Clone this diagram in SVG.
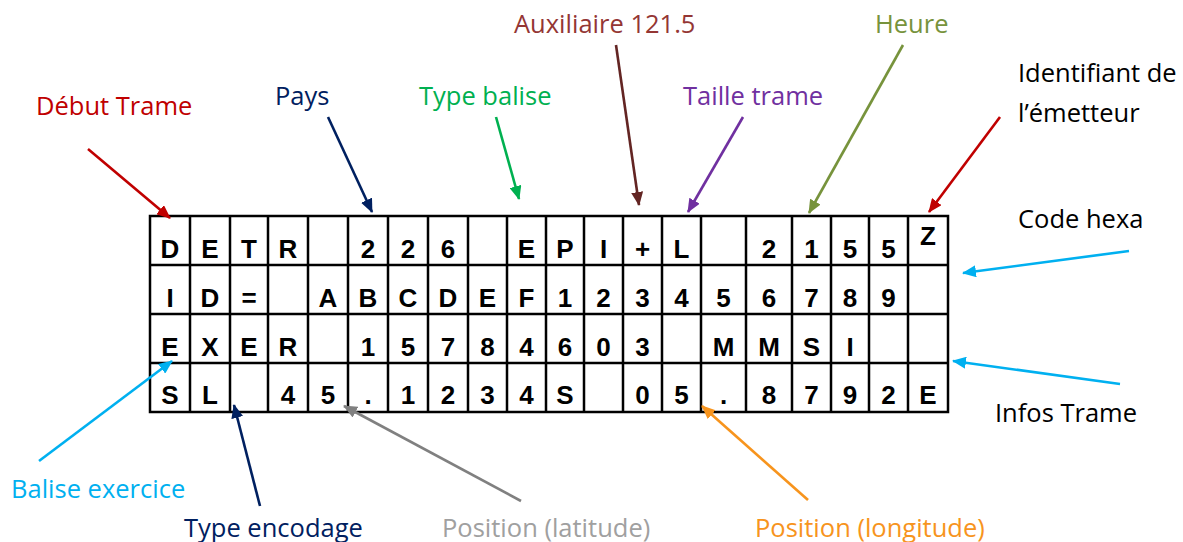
<svg xmlns="http://www.w3.org/2000/svg" width="1183" height="542" viewBox="0 0 1183 542">
  <style>
    .lbl { font-family: "Open Sans", "Liberation Sans", sans-serif; font-size: 25.5px; }
    .cell { font-family: "Liberation Sans", Arial, sans-serif; font-size: 26px; font-weight: bold; text-anchor: middle; fill: #000; }
    .grid { stroke: #000; stroke-width: 2.5; fill: none; }
    .arr { stroke-width: 2.6; fill: none; }
  </style>
  <defs>
    <marker id="m-red" viewBox="0 0 14 12" refX="13" refY="6" markerWidth="14" markerHeight="12" markerUnits="userSpaceOnUse" orient="auto"><path d="M0,0 L14,6 L0,12 z" fill="#C00000"/></marker>
    <marker id="m-navy" viewBox="0 0 14 12" refX="13" refY="6" markerWidth="14" markerHeight="12" markerUnits="userSpaceOnUse" orient="auto"><path d="M0,0 L14,6 L0,12 z" fill="#002060"/></marker>
    <marker id="m-green" viewBox="0 0 14 12" refX="13" refY="6" markerWidth="14" markerHeight="12" markerUnits="userSpaceOnUse" orient="auto"><path d="M0,0 L14,6 L0,12 z" fill="#00B050"/></marker>
    <marker id="m-brown" viewBox="0 0 14 12" refX="13" refY="6" markerWidth="14" markerHeight="12" markerUnits="userSpaceOnUse" orient="auto"><path d="M0,0 L14,6 L0,12 z" fill="#632523"/></marker>
    <marker id="m-purple" viewBox="0 0 14 12" refX="13" refY="6" markerWidth="14" markerHeight="12" markerUnits="userSpaceOnUse" orient="auto"><path d="M0,0 L14,6 L0,12 z" fill="#7030A0"/></marker>
    <marker id="m-olive" viewBox="0 0 14 12" refX="13" refY="6" markerWidth="14" markerHeight="12" markerUnits="userSpaceOnUse" orient="auto"><path d="M0,0 L14,6 L0,12 z" fill="#77933C"/></marker>
    <marker id="m-cyan" viewBox="0 0 14 12" refX="13" refY="6" markerWidth="14" markerHeight="12" markerUnits="userSpaceOnUse" orient="auto"><path d="M0,0 L14,6 L0,12 z" fill="#00B0F0"/></marker>
    <marker id="m-gray" viewBox="0 0 14 12" refX="13" refY="6" markerWidth="14" markerHeight="12" markerUnits="userSpaceOnUse" orient="auto"><path d="M0,0 L14,6 L0,12 z" fill="#808080"/></marker>
    <marker id="m-orange" viewBox="0 0 14 12" refX="13" refY="6" markerWidth="14" markerHeight="12" markerUnits="userSpaceOnUse" orient="auto"><path d="M0,0 L14,6 L0,12 z" fill="#F7941D"/></marker>
  </defs>

  <rect width="1183" height="542" fill="#fff"/>

  <!-- frame table: 20 columns x 4 rows -->
  <g id="frame-table">
    <rect class="grid" x="150" y="216" width="798" height="196"/>
    <path class="grid" d="M150,265 H948 M150,314 H948 M150,363 H948
      M190,216 V412 M230,216 V412 M268,216 V412 M308,216 V412 M348,216 V412
      M388,216 V412 M428,216 V412 M468,216 V412 M507,216 V412 M546,216 V412
      M584,216 V412 M623,216 V412 M662,216 V412 M701,216 V412 M746,216 V412
      M792,216 V412 M831,216 V412 M869,216 V412 M908,216 V412"/>

    <!-- row 1 -->
    <g id="row1">
      <text class="cell" x="170" y="258">D</text>
      <text class="cell" x="210" y="258">E</text>
      <text class="cell" x="249" y="258">T</text>
      <text class="cell" x="288" y="258">R</text>
      <text class="cell" x="368" y="258">2</text>
      <text class="cell" x="408" y="258">2</text>
      <text class="cell" x="448" y="258">6</text>
      <text class="cell" x="526.5" y="258">E</text>
      <text class="cell" x="565" y="258">P</text>
      <text class="cell" x="603.5" y="258">I</text>
      <text class="cell" x="642.5" y="258">+</text>
      <text class="cell" x="681.5" y="258">L</text>
      <text class="cell" x="769" y="258">2</text>
      <text class="cell" x="811.5" y="258">1</text>
      <text class="cell" x="850" y="258">5</text>
      <text class="cell" x="888.5" y="258">5</text>
      <text class="cell" x="928" y="245">Z</text>
    </g>
    <!-- row 2 -->
    <g id="row2">
      <text class="cell" x="170" y="307">I</text>
      <text class="cell" x="210" y="307">D</text>
      <text class="cell" x="249" y="307">=</text>
      <text class="cell" x="328" y="307">A</text>
      <text class="cell" x="368" y="307">B</text>
      <text class="cell" x="408" y="307">C</text>
      <text class="cell" x="448" y="307">D</text>
      <text class="cell" x="487.5" y="307">E</text>
      <text class="cell" x="526.5" y="307">F</text>
      <text class="cell" x="565" y="307">1</text>
      <text class="cell" x="603.5" y="307">2</text>
      <text class="cell" x="642.5" y="307">3</text>
      <text class="cell" x="681.5" y="307">4</text>
      <text class="cell" x="723.5" y="307">5</text>
      <text class="cell" x="769" y="307">6</text>
      <text class="cell" x="811.5" y="307">7</text>
      <text class="cell" x="850" y="307">8</text>
      <text class="cell" x="888.5" y="307">9</text>
    </g>
    <!-- row 3 -->
    <g id="row3">
      <text class="cell" x="170" y="356">E</text>
      <text class="cell" x="210" y="356">X</text>
      <text class="cell" x="249" y="356">E</text>
      <text class="cell" x="288" y="356">R</text>
      <text class="cell" x="368" y="356">1</text>
      <text class="cell" x="408" y="356">5</text>
      <text class="cell" x="448" y="356">7</text>
      <text class="cell" x="487.5" y="356">8</text>
      <text class="cell" x="526.5" y="356">4</text>
      <text class="cell" x="565" y="356">6</text>
      <text class="cell" x="603.5" y="356">0</text>
      <text class="cell" x="642.5" y="356">3</text>
      <text class="cell" x="723.5" y="356">M</text>
      <text class="cell" x="769" y="356">M</text>
      <text class="cell" x="811.5" y="356">S</text>
      <text class="cell" x="850" y="356">I</text>
    </g>
    <!-- row 4 -->
    <g id="row4">
      <text class="cell" x="170" y="404">S</text>
      <text class="cell" x="210" y="404">L</text>
      <text class="cell" x="288" y="404">4</text>
      <text class="cell" x="328" y="404">5</text>
      <text class="cell" x="368" y="404">.</text>
      <text class="cell" x="408" y="404">1</text>
      <text class="cell" x="448" y="404">2</text>
      <text class="cell" x="487.5" y="404">3</text>
      <text class="cell" x="526.5" y="404">4</text>
      <text class="cell" x="565" y="404">S</text>
      <text class="cell" x="642.5" y="404">0</text>
      <text class="cell" x="681.5" y="404">5</text>
      <text class="cell" x="723.5" y="404">.</text>
      <text class="cell" x="769" y="404">8</text>
      <text class="cell" x="811.5" y="404">7</text>
      <text class="cell" x="850" y="404">9</text>
      <text class="cell" x="888.5" y="404">2</text>
      <text class="cell" x="928" y="404">E</text>
    </g>
  </g>

  <!-- labels -->
  <g id="debut-trame"><text class="lbl" x="36" y="115" fill="#C00000">Début Trame</text></g>
  <g id="pays"><text class="lbl" x="275" y="105" fill="#002060">Pays</text></g>
  <g id="type-balise"><text class="lbl" x="419" y="105" fill="#00B050">Type balise</text></g>
  <g id="auxiliaire"><text class="lbl" x="514" y="33" fill="#943634">Auxiliaire 121.5</text></g>
  <g id="taille-trame"><text class="lbl" x="683" y="105" fill="#7030A0">Taille trame</text></g>
  <g id="heure"><text class="lbl" x="875" y="33" fill="#77933C">Heure</text></g>
  <g id="identifiant">
    <text class="lbl" x="1018" y="82" fill="#000">Identifiant de</text>
    <text class="lbl" x="1018" y="122" fill="#000">l’émetteur</text>
  </g>
  <g id="code-hexa"><text class="lbl" x="1018" y="228" fill="#000">Code hexa</text></g>
  <g id="infos-trame"><text class="lbl" x="995" y="422" fill="#000">Infos Trame</text></g>
  <g id="balise-exercice"><text class="lbl" x="11" y="498" fill="#00B0F0">Balise exercice</text></g>
  <g id="type-encodage"><text class="lbl" x="184" y="537" fill="#002060">Type encodage</text></g>
  <g id="position-latitude"><text class="lbl" x="442" y="537" fill="#A0A0A0">Position (latitude)</text></g>
  <g id="position-longitude"><text class="lbl" x="755" y="537" fill="#F7941D">Position (longitude)</text></g>

  <!-- connectors -->
  <g id="connectors">
    <line class="arr" x1="88" y1="149" x2="170" y2="218" stroke="#C00000" marker-end="url(#m-red)"/>
    <line class="arr" x1="328" y1="117" x2="372" y2="212" stroke="#002060" marker-end="url(#m-navy)"/>
    <line class="arr" x1="496" y1="117" x2="519" y2="199" stroke="#00B050" marker-end="url(#m-green)"/>
    <line class="arr" x1="616" y1="45" x2="639" y2="205" stroke="#632523" marker-end="url(#m-brown)"/>
    <line class="arr" x1="743" y1="117" x2="688" y2="212" stroke="#7030A0" marker-end="url(#m-purple)"/>
    <line class="arr" x1="903" y1="45" x2="809" y2="213" stroke="#77933C" marker-end="url(#m-olive)"/>
    <line class="arr" x1="1000" y1="117" x2="929" y2="212" stroke="#C00000" marker-end="url(#m-red)"/>
    <line class="arr" x1="1129" y1="251" x2="963" y2="273" stroke="#00B0F0" marker-end="url(#m-cyan)"/>
    <line class="arr" x1="1120" y1="384" x2="953" y2="361" stroke="#00B0F0" marker-end="url(#m-cyan)"/>
    <line class="arr" x1="39" y1="461" x2="172" y2="361" stroke="#00B0F0" marker-end="url(#m-cyan)"/>
    <line class="arr" x1="260" y1="506" x2="234" y2="405" stroke="#002060" marker-end="url(#m-navy)"/>
    <line class="arr" x1="521" y1="501" x2="344" y2="406" stroke="#808080" marker-end="url(#m-gray)"/>
    <line class="arr" x1="808" y1="500" x2="702" y2="406" stroke="#F7941D" marker-end="url(#m-orange)"/>
  </g>
</svg>
